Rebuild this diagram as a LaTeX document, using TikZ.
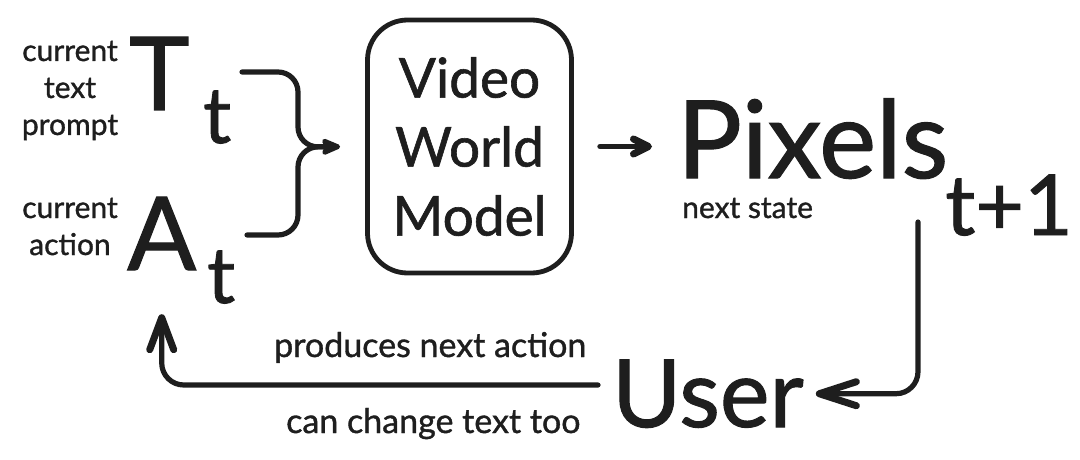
\documentclass[tikz,border=0pt]{standalone}
\usepackage{fontspec}
\setmainfont{Lato}[FakeBold=1.1]
\usetikzlibrary{arrows.meta}
\definecolor{ink}{RGB}{30,30,30}
\begin{document}
\begin{tikzpicture}[x=1pt,y=-1pt,
  lbl/.style={inner sep=0pt, text=ink, font=\fontsize{30}{37}\selectfont, align=center},
  big/.style={inner sep=0pt, text=ink, anchor=base west},
  conn/.style={draw=ink, line width=5.2pt, line cap=round, line join=round},
  barb/.style={-{Straight Barb[#1,line width=0pt 1.35,round]}},
  boxst/.style={draw=ink, line width=4.8pt, rounded corners=40pt, text=ink,
    minimum width=204pt, minimum height=253pt, inner sep=0pt, align=center,
    font=\fontsize{55}{69}\selectfont}]
\useasboundingbox (0,0) rectangle (1080,460);
% left labels
\node[lbl, anchor=base] (ctp) at (70,135) {current\\text\\prompt};
\node[lbl, anchor=base] (ca) at (70,255) {current\\action};
\node[big, font=\fontsize{102}{102}\selectfont] (T) at (129,110) {T};
\node[big, font=\fontsize{78}{78}\selectfont] (Tt) at (203,143) {t};
\node[big, font=\fontsize{102}{102}\selectfont] (A) at (127,270) {A};
\node[big, font=\fontsize{78}{78}\selectfont] (At) at (207,303) {t};
% box
\node[boxst] (box) at (469.5,146.5) {Video\\World\\Model};
% right side
\node[big, font=\fontsize{108}{108}\selectfont] (pix) at (677,178) {Pixels};
\node[big, font=\fontsize{84}{84}\selectfont] (pt1) at (945,235) {t+1};
\node[lbl, anchor=base west] (ns) at (682,218) {next state};
\node[big, font=\fontsize{94}{94}\selectfont] (user) at (612,427) {User};
\node[lbl, anchor=base west, font=\fontsize{34}{34}\selectfont] (pna) at (274,357) {produces next action};
\node[lbl, anchor=base west, font=\fontsize{34}{34}\selectfont] (cct) at (286,433) {can change text too};
% brace
\coordinate (bt) at (242,72);
\coordinate (bb) at (247,235);
\coordinate (bc) at (298,147);
\draw[conn, rounded corners=20pt, shorten >=32pt] (bb) -| (bc) -- (box.west);
\draw[conn, rounded corners=20pt, -{Stealth[length=24pt,width=20pt,inset=5pt,round]}, shorten >=25pt] (bt) -| (bc) -- (box.west);
% box -> pixels
\draw[conn, barb={length=15pt,width=15pt}, shorten <=26pt, shorten >=25pt] (box.east) -- (pix.west |- box.east);
% pixels -> user
\coordinate (rs) at (918,222);
\draw[conn, rounded corners=22pt, barb={length=37pt,width=24pt}] (rs) |- ([xshift=12pt]user.east);
% user -> action
\coordinate (ls) at (598,385);
\draw[conn, rounded corners=22pt, barb={length=32pt,width=24pt}, shorten >=44pt] (ls) -| (A.south);
\end{tikzpicture}
\end{document}
